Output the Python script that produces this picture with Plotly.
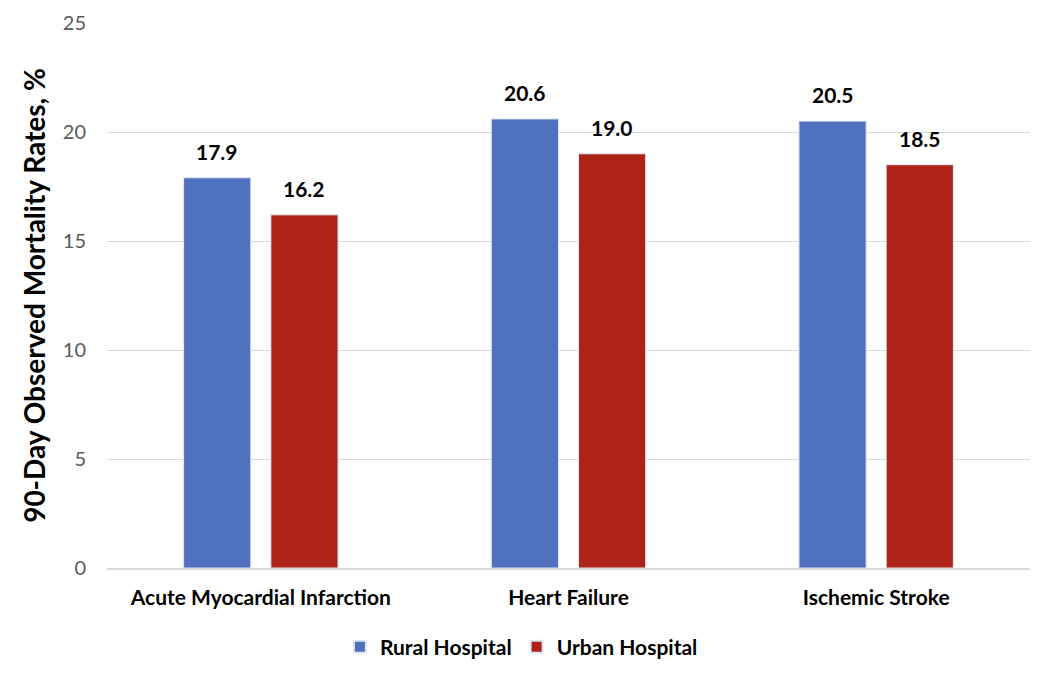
import plotly.graph_objects as go

categories = ["Acute Myocardial Infarction", "Heart Failure", "Ischemic Stroke"]
rural = [17.9, 20.6, 20.5]
urban = [16.2, 19.0, 18.5]
series_names = ["Rural Hospital", "Urban Hospital"]
y_ticks = [0, 5, 10, 15, 20, 25]

BLUE = "#4f71be"
RED = "#ae2318"
FONT = "Lato, 'Open Sans', sans-serif"

fig = go.Figure()
for name, vals, col in [(series_names[0], rural, BLUE), (series_names[1], urban, RED)]:
    fig.add_trace(go.Bar(
        x=categories, y=vals, name=name,
        marker=dict(color=col, line=dict(color="#dfe6f3", width=1)),
        text=[f"{v:.1f}" for v in vals], textposition="none",
    ))

# data labels as annotations above the bars
for off, vals in [(-0.5, rural), (0.5, urban)]:
    for i, v in enumerate(vals):
        fig.add_annotation(x=i, y=v, xref="x", yref="y", text=f"{v:.1f}", showarrow=False,
                           xshift=off * 87, yshift=12, yanchor="bottom",
                           font=dict(family=FONT, size=21, color="#000000", weight="bold"))

fig.update_layout(
    width=1050, height=683,
    margin=dict(l=99, r=28, t=15, b=123, autoexpand=False),
    paper_bgcolor="white", plot_bgcolor="white",
    barmode="group", bargap=0.433, bargroupgap=0.23,
    font=dict(family=FONT, size=20, color="#595959"),
    legend=dict(orientation="h", x=0.449, xanchor="center", y=-0.145, yanchor="middle",
                font=dict(family=FONT, size=21, color="#000000", weight="bold"),
                itemsizing="constant", traceorder="normal"),
    showlegend=True,
)
fig.update_yaxes(range=[0, 25], tickvals=y_ticks, showgrid=True, gridcolor="#d9d9d9", gridwidth=1,
                 zeroline=False, showline=False, ticks="", ticklabelstandoff=20, automargin=False,
                 tickfont=dict(family=FONT, size=20, color="#595959"),
                 title=dict(text="90-Day Observed Mortality Rates, %", standoff=8,
                            font=dict(family=FONT, size=28, color="#000000", weight="bold")))
fig.update_xaxes(showline=True, linecolor="#d9d9d9", linewidth=1.5, ticks="", ticklabelstandoff=10,
                 automargin=False,
                 tickfont=dict(family=FONT, size=21, color="#000000", weight="bold"))

fig.write_html("out.html")
